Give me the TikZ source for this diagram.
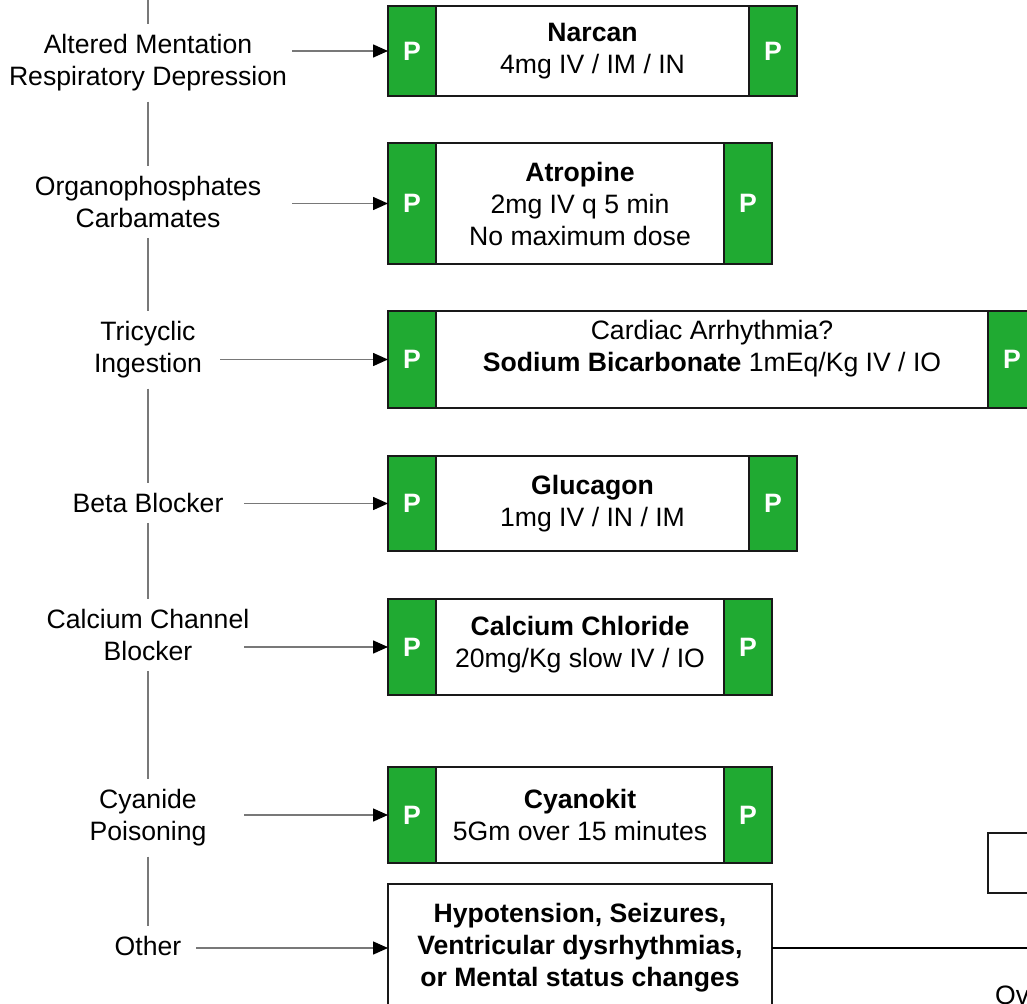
\documentclass[tikz,border=0pt]{standalone}
\usepackage{fontspec}
\setmainfont{Liberation Sans}
\usetikzlibrary{arrows.meta}
\usetikzlibrary{positioning}
\definecolor{pgreen}{RGB}{32,170,50}
\definecolor{linegray}{RGB}{120,120,120}

\begin{document}
\begin{tikzpicture}[x=1pt,y=-1pt,font=\fontsize{26.6}{32}\selectfont]
\tikzstyle{label node}=[align=center,inner sep=10pt]
\tikzstyle{drug node}=[rectangle,draw=black!90,line width=2.5pt,fill=white,align=center,inner sep=0,outer sep=0]
\tikzstyle{p node}=[rectangle,draw=black!90,line width=2.5pt,fill=pgreen,text=white,inner sep=0,outer sep=0,minimum width=48pt,font=\fontsize{26.6}{32}\selectfont\bfseries]
\tikzset{
  to drug/.style = {draw=linegray,line width=1.5pt,-{Triangle[length=15pt,width=13pt,color=black]}},
  spine/.style = {draw=linegray,line width=1.5pt},
  plain line/.style = {draw=black,line width=2pt}
}
\useasboundingbox (0,0) rectangle (1027,1003);

    \node[label node] (alt)   at (148,63)  {Altered Mentation\\Respiratory Depression};
    \node[label node] (org)   at (148,202) {Organophosphates\\Carbamates};
    \node[label node] (tri)   at (148,350) {Tricyclic\\Ingestion};
    \node[label node] (beta)  at (148,503) {Beta Blocker};
    \node[label node] (calc)  at (148,635) {Calcium Channel\\Blocker};
    \node[label node] (cyan)  at (148,818) {Cyanide\\Poisoning};
    \node[label node] (other) at (148,946) {Other};
    \coordinate (top) at (148,0);
    %%%%%%%%%%%%%%%%%%%%%%%%%%%%%%%%%%%
    \node[drug node,minimum width=313pt,minimum height=90pt] (narcan) at (592.5,51) {\textbf{Narcan}\\4mg IV / IM / IN};
    \node[p node,minimum height=90pt] (pn1) [left=0pt of narcan] {P};
    \node[p node,minimum height=90pt] (pn2) [right=0pt of narcan] {P};

    \node[drug node,minimum width=288pt,minimum height=121pt] (atro) at (580,203.5) {\textbf{Atropine}\\2mg IV q 5 min\\No maximum dose};
    \node[p node,minimum height=121pt] (pa1) [left=0pt of atro] {P};
    \node[p node,minimum height=121pt] (pa2) [right=0pt of atro] {P};

    \node[drug node,minimum width=552pt,minimum height=97pt,text depth=28pt] (sodium) at (712,359.5) {Cardiac Arrhythmia?\\\textbf{Sodium Bicarbonate} 1mEq/Kg IV / IO};
    \node[p node,minimum height=97pt] (ps1) [left=0pt of sodium] {P};
    \node[p node,minimum height=97pt] (ps2) [right=0pt of sodium] {P};

    \node[drug node,minimum width=313pt,minimum height=95pt] (gluc) at (592.5,503.5) {\textbf{Glucagon}\\1mg IV / IN / IM};
    \node[p node,minimum height=95pt] (pg1) [left=0pt of gluc] {P};
    \node[p node,minimum height=95pt] (pg2) [right=0pt of gluc] {P};

    \node[drug node,minimum width=288pt,minimum height=96pt,text depth=11pt] (cacl) at (580,647) {\textbf{Calcium Chloride}\\20mg/Kg slow IV / IO};
    \node[p node,minimum height=96pt] (pc1) [left=0pt of cacl] {P};
    \node[p node,minimum height=96pt] (pc2) [right=0pt of cacl] {P};

    \node[drug node,minimum width=288pt,minimum height=96pt] (cyano) at (580,815) {\textbf{Cyanokit}\\5Gm over 15 minutes};
    \node[p node,minimum height=96pt] (pk1) [left=0pt of cyano] {P};
    \node[p node,minimum height=96pt] (pk2) [right=0pt of cyano] {P};

    \node[drug node,minimum width=384pt,minimum height=128pt,font=\fontsize{26.6}{32}\selectfont\bfseries] (hypo) at (580,948) {Hypotension, Seizures,\\Ventricular dysrhythmias,\\or Mental status changes};
    %%%%%%%%%%%%%%%%%%%%%%%%%%%%%%%%%%%
    \node[drug node,minimum width=120pt,minimum height=60pt] (side) at (1048,863) {};
    \node[anchor=base west,inner sep=0] (over) at (995,1004) {Ov};
    \coordinate (hypo out) at (1027,948);
    %%%%%%%%%%%%%%%%%%%%%%%%%%%%%%%%%%%
    \coordinate (c1) at (292,51);
    \coordinate (c2) at (292,203.5);
    \coordinate (c3) at (220,359.5);
    \coordinate (c4) at (244,503.5);
    \coordinate (c5) at (244,647);
    \coordinate (c6) at (244,815);
    \coordinate (c7) at (196,948);
    %%%%%%%%%%%%%%%%%%%%%%%%%%%%%%%%%%%
    \path
         (top)    edge[spine] (alt)
         (alt)    edge[spine] (org)
         (org)    edge[spine] (tri)
         (tri)    edge[spine] (beta)
         (beta)   edge[spine] (calc)
         (calc)   edge[spine] (cyan)
         (cyan)   edge[spine] (other);
    \path
         (c1) edge[to drug] (pn1)
         (c2) edge[to drug] (pa1)
         (c3) edge[to drug] (ps1)
         (c4) edge[to drug] (pg1)
         (c5) edge[to drug] (pc1)
         (c6) edge[to drug] (pk1)
         (c7) edge[to drug] (hypo);
    \path
         (hypo) edge[plain line] (hypo out);
\end{tikzpicture}
\end{document}
